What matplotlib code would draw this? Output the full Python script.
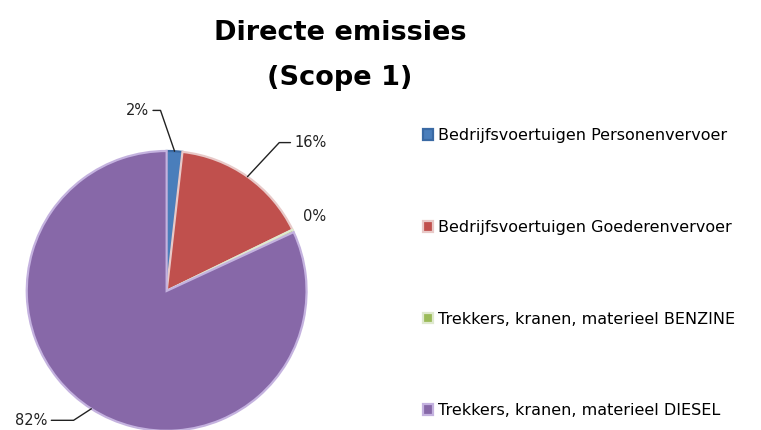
import numpy as np
import matplotlib.pyplot as plt

categories = ['Bedrijfsvoertuigen Personenvervoer',
              'Bedrijfsvoertuigen Goederenvervoer',
              'Trekkers, kranen, materieel BENZINE',
              'Trekkers, kranen, materieel DIESEL']
values = [1.8, 16.0, 0.3, 81.9]
pct_labels = ['2%', '16%', '0%', '82%']
colors = ['#4a7ebb', '#c0504d', '#9bbb59', '#8768a8']
edge_colors = ['#3a6aa4', '#e8c9c8', '#dfe9cf', '#c4b2df']

fig = plt.figure(figsize=(7.61, 4.30), dpi=100)
# pie axes: radius 1 = ~140 px, centre at ~(167, 291) px
ax = fig.add_axes([-0.020, -0.1, 0.478, 0.847])

wedges, _ = ax.pie(values, colors=colors, startangle=90, counterclock=False,
                   wedgeprops=dict(linewidth=1.6))
ax.set_xlim(-1.3, 1.3)
ax.set_ylim(-1.3, 1.3)
ax.set_aspect('equal')
ax.axis('off')
for w, ec in zip(wedges, edge_colors):
    w.set_edgecolor(ec)
    w.set_clip_on(False)

# label positions (data units) and direction of the leader line into the slice
label_pos = [(-0.21, 1.29), (1.03, 1.06), (1.06, 0.53), (-0.97, -0.925)]
leader_angle = [109, 47, None, 33]
for i, w in enumerate(wedges):
    ang = np.deg2rad((w.theta1 + w.theta2) / 2)
    tip = (np.cos(ang), np.sin(ang))
    tx, ty = label_pos[i]
    if leader_angle[i] is None:
        ax.text(tx, ty, pct_labels[i], ha='center', va='center', fontsize=10.5,
                color='#222222')
        continue
    ax.annotate(pct_labels[i], xy=tip, xytext=(tx, ty), ha='center', va='center',
                fontsize=10.5, color='#222222',
                arrowprops=dict(arrowstyle='-', color='#222222', lw=1.0,
                                shrinkA=1, shrinkB=0,
                                connectionstyle='angle,angleA=0,angleB=%d,rad=0' % leader_angle[i]),
                annotation_clip=False)

fig.text(0.447, 0.923, 'Directe emissies', ha='center', va='center',
         fontsize=19.5, fontweight='bold')
fig.text(0.447, 0.818, '(Scope 1)', ha='center', va='center',
         fontsize=19.5, fontweight='bold')

leg = fig.legend(wedges, categories, loc='upper left', bbox_to_anchor=(0.537, 0.735),
                 frameon=False, handlelength=0.65, handleheight=0.65,
                 handletextpad=0.3, labelspacing=4.8, prop={'size': 11.5})

fig.savefig('out.png', dpi=100)
